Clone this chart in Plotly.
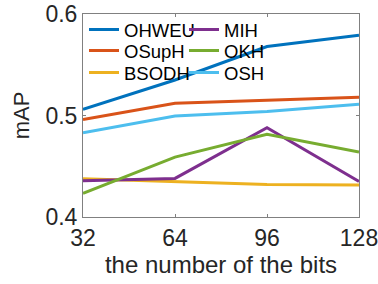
import plotly.graph_objects as go

bits = [32, 64, 96, 128]
ohweu = [0.506, 0.535, 0.568, 0.579]
osuph = [0.496, 0.512, 0.515, 0.518]
bsodh = [0.4378, 0.435, 0.432, 0.4315]
mih = [0.4358, 0.438, 0.488, 0.435]
okh = [0.4233, 0.459, 0.4815, 0.464]
osh = [0.483, 0.4995, 0.504, 0.511]

series = [
    ("OHWEU", ohweu, "#0072BD", "legend"),
    ("OSupH", osuph, "#D95319", "legend2"),
    ("BSODH", bsodh, "#EDB120", "legend3"),
    ("MIH", mih, "#7E2F8E", "legend"),
    ("OKH", okh, "#77AC30", "legend2"),
    ("OSH", osh, "#4DBEEE", "legend3"),
]

fig = go.Figure()
for name, vals, color, lg in series:
    fig.add_trace(go.Scatter(x=bits, y=vals, mode="lines", name=name,
                             line=dict(color=color, width=3), legend=lg))

font = "Liberation Sans, Arial, Helvetica, sans-serif"
axcommon = dict(showline=True, linecolor="#808080", linewidth=1, mirror="ticks",
                ticks="inside", ticklen=3, tickcolor="#808080", showgrid=False,
                zeroline=False, ticklabeloverflow="allow",
                tickfont=dict(size=23, color="#262626", family=font))

W, H = 378, 284
PL, PR, PT, PB = 83, 19, 14, 67
PH = H - PT - PB
PW = W - PL - PR

def leg(rowpx):
    return dict(orientation="h", x=1 / PW, xref="paper", y=1 - (rowpx - PT) / PH, yref="paper",
                xanchor="left", yanchor="middle", bgcolor="rgba(0,0,0,0)",
                font=dict(size=18.5, family=font, color="#000000"),
                itemwidth=30, entrywidth=55, traceorder="normal")

fig.update_layout(
    width=W, height=H,
    margin=dict(l=PL, r=PR, t=PT, b=PB, autoexpand=False),
    paper_bgcolor="white", plot_bgcolor="white",
    font=dict(family=font, color="#262626"),
    xaxis=dict(range=[32, 128], tickvals=bits, ticktext=["32", "64", "96", "128"],
               title=dict(text="the number of the bits", font=dict(size=24), standoff=6),
               **axcommon),
    yaxis=dict(range=[0.4, 0.6], tickvals=[0.4, 0.5, 0.6], ticktext=["0.4", "0.5", "0.6"],
               title=dict(text="mAP", font=dict(size=22), standoff=9),
               **axcommon),
    legend=leg(30),
    legend2=leg(51),
    legend3=leg(73),
    showlegend=True,
)

fig.write_html("out.html", config={"displayModeBar": False},
               post_script="document.body.style.margin='0';")
